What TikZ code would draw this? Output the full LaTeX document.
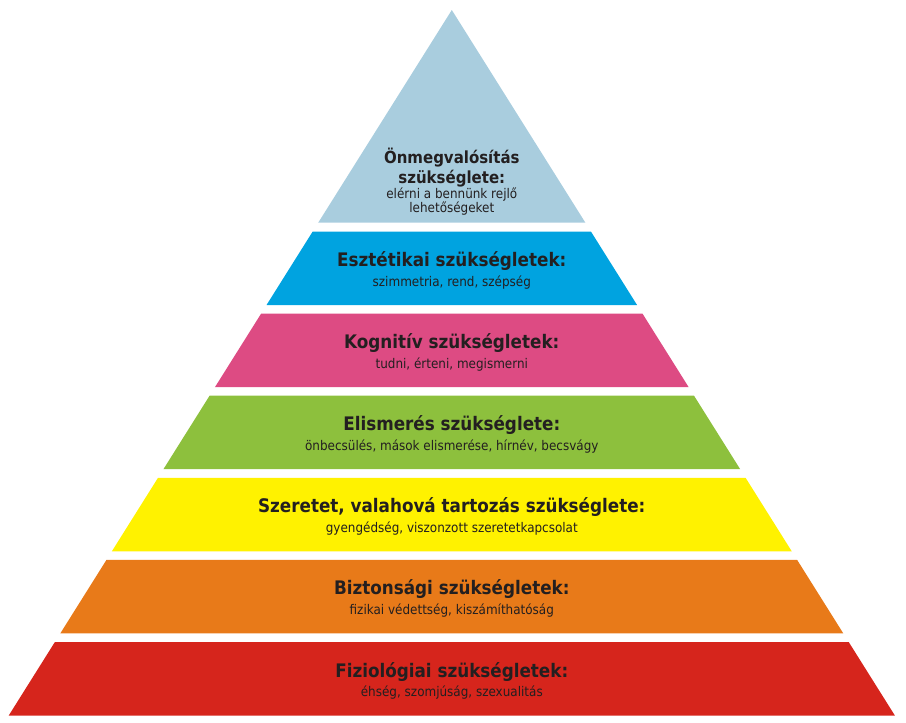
\documentclass[tikz,border=0pt]{standalone}
\usepackage{fontspec}
\setmainfont{DejaVu Sans Condensed}
\usetikzlibrary{positioning}
\definecolor{vilagoskek}{RGB}{169,205,222}
\definecolor{kek}{RGB}{0,163,224}
\definecolor{rozsaszin}{RGB}{221,75,131}
\definecolor{zold}{RGB}{141,192,61}
\definecolor{sarga}{RGB}{255,242,0}
\definecolor{narancs}{RGB}{232,122,25}
\definecolor{piros}{RGB}{214,37,28}
\definecolor{szoveg}{RGB}{35,31,32}

\begin{document}
\begin{tikzpicture}[x=0.75pt,y=0.75pt,yscale=-1,xscale=1,
  cim/.style={font=\bfseries\fontsize{14}{17}\selectfont,text=szoveg,inner sep=0pt},
  csucscim/.style={font=\bfseries\fontsize{12.5}{15}\selectfont,text=szoveg,inner sep=0pt},
  leiras/.style={font=\fontsize{10}{12}\selectfont,text=szoveg,inner sep=0pt}]
\useasboundingbox (0,0) rectangle (906,722);

%Shape: Triangle [csucs]
\fill[vilagoskek] (451.8,10) -- (585.4,222.7) -- (318.2,222.7) -- cycle ;
\node[csucscim,anchor=base] (onm) at (451.8,163.3) {Önmegvalósítás};
\node[csucscim,anchor=base] (onm2) at (451.8,183.3) {szükséglete:};
\node[leiras,anchor=base] (onm-l) at (451.8,198.3) {elérni a bennünk rejlő};
\node[leiras,anchor=base] (onm-l2) at (451.8,212.3) {lehetőségeket};

%Shape: Trapezoid bands, top to bottom
\foreach \k/\szin/\nev/\cimszoveg/\leirasszoveg in {
  0/kek/eszt/{Esztétikai szükségletek:}/{szimmetria, rend, szépség},
  1/rozsaszin/kogn/{Kognitív szükségletek:}/{tudni, érteni, megismerni},
  2/zold/elism/{Elismerés szükséglete:}/{önbecsülés, mások elismerése, hírnév, becsvágy},
  3/sarga/szer/{Szeretet, valahová tartozás szükséglete:}/{gyengédség, viszonzott szeretetkapcsolat},
  4/narancs/bizt/{Biztonsági szükségletek:}/{fizikai védettség, kiszámíthatóság},
  5/piros/fiz/{Fiziológiai szükségletek:}/{éhség, szomjúság, szexualitás}}
{
  \pgfmathsetmacro\ft{231.5+82.1*\k}
  \pgfmathsetmacro\fb{\ft+73.5}
  \pgfmathsetmacro\wt{0.628*(\ft-10)}
  \pgfmathsetmacro\wb{0.628*(\fb-10)}
  \fill[\szin] (451.8-\wt,\ft) -- (451.8+\wt,\ft) -- (451.8+\wb,\fb) -- (451.8-\wb,\fb) -- cycle ;
  \node[cim,anchor=base] (\nev) at (451.8,\ft+35) {\cimszoveg};
  \node[leiras,anchor=base] (\nev-l) at (451.8,\ft+54.5) {\leirasszoveg};
}

\end{tikzpicture}
\end{document}
